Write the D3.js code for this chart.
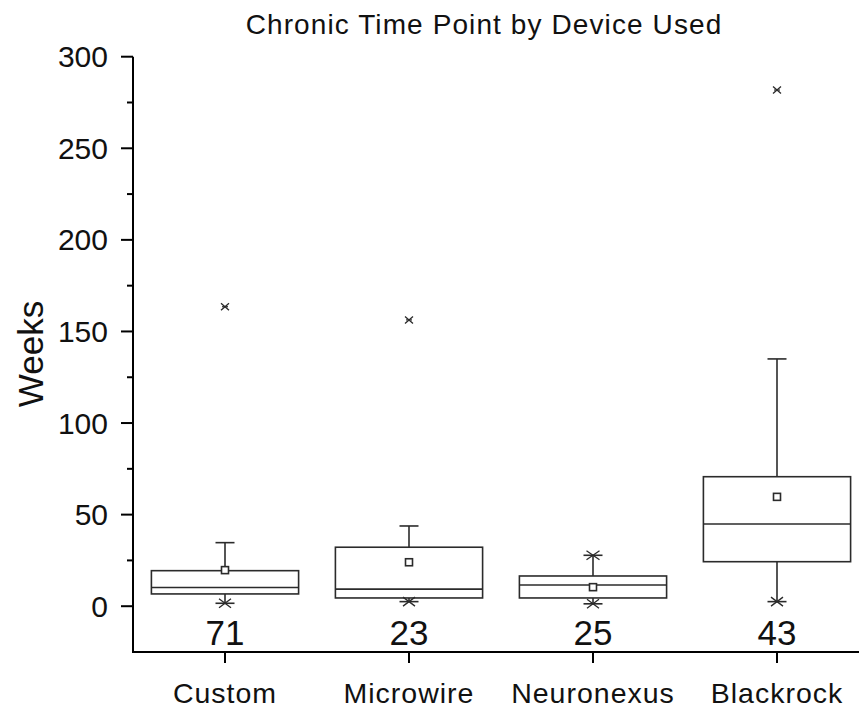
<!DOCTYPE html>
<html>
<head>
<meta charset="utf-8">
<script src="https://cdn.jsdelivr.net/npm/d3@7"></script>
<style>
  html, body { margin: 0; padding: 0; background: #fff; }
  svg { display: block; font-family: "Liberation Sans", Arial, sans-serif; }
</style>
</head>
<body>
<svg id="chart" width="859" height="707"></svg>
<script>
// ---- data (weeks) ----
const categories = ["Custom", "Microwire", "Neuronexus", "Blackrock"];
const counts     = [71, 23, 25, 43];
const q1         = [6.7, 4.5, 4.5, 24.3];
const median     = [10.2, 9.3, 11.6, 44.9];
const q3         = [19.4, 32.2, 16.5, 70.7];
const mean       = [19.7, 24.0, 10.4, 59.7];
const whiskerLo  = [1.6, 2.5, 1.3, 2.5];
const whiskerHi  = [34.7, 43.8, 27.8, 135.0];
const outlierHi  = [163.5, 156.3, null, 281.8];
const yTicks     = [0, 50, 100, 150, 200, 250, 300];
const yMinor     = [25, 75, 125, 175, 225, 275];

(function () {
const svg = d3.select("#chart");
const mLeft = 133, mTop = 56.7, mBottom = 652;
const step = 184;

const x = d3.scalePoint().domain(categories).range([mLeft, mLeft + step * categories.length]).padding(0.5);
const y = d3.scaleLinear().domain([-25, 300]).range([mBottom, mTop]);
const boxW = step * 0.8;

const stroke = "#2b2b2b";

// title
svg.append("text")
  .attr("x", 484).attr("y", 34)
  .attr("text-anchor", "middle")
  .attr("font-size", 28)
  .attr("letter-spacing", 1.1)
  .attr("fill", "#111")
  .text("Chronic Time Point by Device Used");

// y axis
const yAxis = svg.append("g").attr("transform", `translate(${mLeft},0)`);
yAxis.append("line").attr("x1", 0).attr("x2", 0).attr("y1", y(300)).attr("y2", y(-25))
  .attr("stroke", "#000").attr("stroke-width", 2);
yAxis.selectAll(".maj").data(yTicks).join("line").attr("class", "maj")
  .attr("x1", -12).attr("x2", 0).attr("y1", d => y(d)).attr("y2", d => y(d))
  .attr("stroke", "#000").attr("stroke-width", 2);
yAxis.selectAll(".min").data(yMinor).join("line").attr("class", "min")
  .attr("x1", -6).attr("x2", 0).attr("y1", d => y(d)).attr("y2", d => y(d))
  .attr("stroke", "#000").attr("stroke-width", 2);
yAxis.selectAll("text").data(yTicks).join("text")
  .attr("x", -25).attr("y", d => y(d) + 10.6)
  .attr("text-anchor", "end")
  .attr("font-size", 30)
  .attr("fill", "#111")
  .text(d => d);

// y label
svg.append("text")
  .attr("transform", `translate(42.5,354) rotate(-90)`)
  .attr("text-anchor", "middle")
  .attr("font-size", 35)
  .attr("fill", "#111")
  .text("Weeks");

// x axis
const xAxis = svg.append("g").attr("transform", `translate(0,${mBottom})`);
xAxis.append("line").attr("x1", mLeft - 1).attr("x2", 870).attr("y1", 0).attr("y2", 0)
  .attr("stroke", "#000").attr("stroke-width", 2);
xAxis.selectAll(".tk").data(categories).join("line").attr("class", "tk")
  .attr("x1", d => x(d)).attr("x2", d => x(d)).attr("y1", 0).attr("y2", 11)
  .attr("stroke", "#000").attr("stroke-width", 2);
xAxis.selectAll("text").data(categories).join("text")
  .attr("x", d => x(d)).attr("y", 50.5)
  .attr("text-anchor", "middle")
  .attr("font-size", 28.5)
  .attr("letter-spacing", 1)
  .attr("fill", "#111")
  .text(d => d);

// counts
svg.selectAll(".cnt").data(categories).join("text").attr("class", "cnt")
  .attr("x", d => x(d)).attr("y", 644.5)
  .attr("text-anchor", "middle")
  .attr("font-size", 35)
  .attr("fill", "#111")
  .text((d, i) => counts[i]);

// boxes
const g = svg.append("g").attr("fill", "none").attr("stroke", stroke).attr("stroke-width", 1.6);
categories.forEach((c, i) => {
  const cx = x(c);
  g.append("line").attr("x1", cx).attr("x2", cx).attr("y1", y(q3[i])).attr("y2", y(whiskerHi[i]));
  g.append("line").attr("x1", cx).attr("x2", cx).attr("y1", y(q1[i])).attr("y2", y(whiskerLo[i]));
  g.append("line").attr("x1", cx - 9.5).attr("x2", cx + 9.5).attr("y1", y(whiskerHi[i])).attr("y2", y(whiskerHi[i]));
  g.append("line").attr("x1", cx - 9.5).attr("x2", cx + 9.5).attr("y1", y(whiskerLo[i])).attr("y2", y(whiskerLo[i]));
  g.append("rect").attr("x", cx - boxW / 2).attr("y", y(q3[i]))
    .attr("width", boxW).attr("height", y(q1[i]) - y(q3[i])).attr("fill", "#fff");
  g.append("line").attr("x1", cx - boxW / 2).attr("x2", cx + boxW / 2).attr("y1", y(median[i])).attr("y2", y(median[i]));
  g.append("rect").attr("x", cx - 3.5).attr("y", y(mean[i]) - 3.5).attr("width", 7).attr("height", 7).attr("fill", "#fff");
  const xm = (yy, w, h) => {
    g.append("path").attr("d", `M${cx - w},${yy - h}L${cx + w},${yy + h}M${cx - w},${yy + h}L${cx + w},${yy - h}`)
      .attr("stroke-width", 1.3);
  };
  xm(y(whiskerLo[i]), 6, 4.5);
  if (i === 2) xm(y(whiskerHi[i]), 6.5, 4.5);
  if (outlierHi[i] != null) {
    const oy = y(outlierHi[i]);
    xm(oy, 4, 3.5);
    g.append("line").attr("x1", cx - 3).attr("x2", cx + 3).attr("y1", oy).attr("y2", oy).attr("stroke-width", 1.2);
  }
});
})();
</script>
</body>
</html>
